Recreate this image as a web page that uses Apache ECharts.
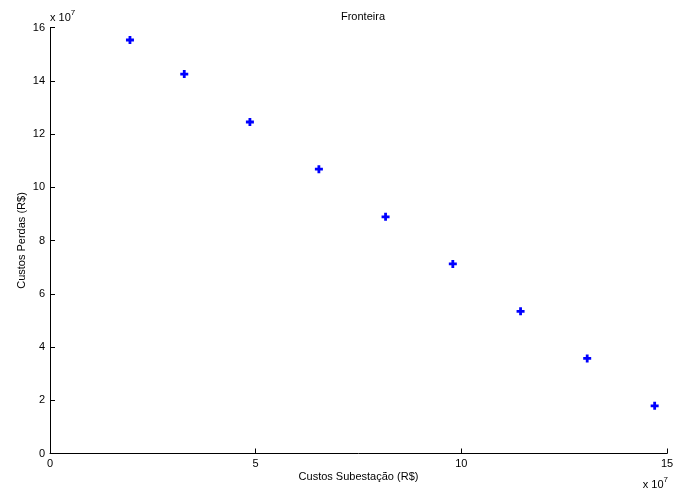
<!DOCTYPE html>
<html>
<head>
<meta charset="utf-8">
<script src="https://cdn.jsdelivr.net/npm/echarts@6/dist/echarts.min.js"></script>
<style>html,body{margin:0;padding:0;background:#fff}#c{width:675px;height:488px}</style>
</head>
<body>
<div id="c"></div>
<script>
var title = 'Fronteira';
var xName = 'Custos Subestação (R$)';
var yName = 'Custos Perdas (R$)';
var custosSubestacao = [1.944e7, 3.264e7, 4.86e7, 6.537e7, 8.158e7, 9.793e7, 11.44e7, 13.06e7, 14.70e7];
var custosPerdas = [15.53e7, 14.25e7, 12.45e7, 10.68e7, 8.89e7, 7.12e7, 5.34e7, 3.57e7, 1.79e7];
var xTicks = [0, 5, 10, 15];
var yTicks = [0, 2, 4, 6, 8, 10, 12, 14, 16];
var scale = 1e7;

var pts = custosSubestacao.map(function (v, i) { return [v, custosPerdas[i]]; });
var font = 'Liberation Sans, Arial, Helvetica, sans-serif';
var chart = echarts.init(document.getElementById('c'), null, {renderer: 'canvas'});
var axisCommon = {
  axisLine: {show: true, onZero: false, lineStyle: {color: '#000', width: 1}},
  axisTick: {show: true, inside: true, length: 5, lineStyle: {color: '#000'}},
  splitLine: {show: false},
  axisLabel: {color: '#000', fontSize: 11, fontFamily: font, formatter: function (v) { return String(Math.round(v / scale)); }}
};
chart.setOption({
  animation: false,
  backgroundColor: '#fff',
  title: {text: title, left: 358, top: 6, textAlign: 'center', textStyle: {fontSize: 11, fontWeight: 'normal', color: '#000', fontFamily: font}},
  grid: {left: 50, top: 27.5, width: 617, height: 426, containLabel: false, outerBoundsMode: 'none'},
  xAxis: Object.assign({}, axisCommon, {
    type: 'value', min: xTicks[0] * scale, max: xTicks[xTicks.length - 1] * scale, interval: 5 * scale,
    name: xName, nameLocation: 'middle', nameGap: 18, nameMoveOverlap: false,
    nameTextStyle: {fontSize: 11, color: '#000', fontFamily: font},
    axisLabel: Object.assign({}, axisCommon.axisLabel, {margin: 5})
  }),
  yAxis: Object.assign({}, axisCommon, {
    type: 'value', min: yTicks[0] * scale, max: yTicks[yTicks.length - 1] * scale, interval: 2 * scale,
    name: yName, nameLocation: 'middle', nameGap: 23, nameMoveOverlap: false,
    nameTextStyle: {fontSize: 11, color: '#000', fontFamily: font},
    axisLabel: Object.assign({}, axisCommon.axisLabel, {margin: 5})
  }),
  series: [{
    type: 'scatter',
    data: pts,
    symbol: 'path://M2.6,0H5.4V2.6H8V5.4H5.4V8H2.6V5.4H0V2.6H2.6Z',
    symbolSize: 8,
    itemStyle: {color: '#0000ff', opacity: 1}
  }],
  graphic: [
    {type: 'text', left: 50, top: 9, style: {text: '{b|x 10}{s|7}', rich: {b: {fontSize: 11, fontFamily: font, fill: '#000', verticalAlign: 'bottom'}, s: {fontSize: 8, fontFamily: font, fill: '#000', verticalAlign: 'top', padding: [0, 0, 6, 0]}}}},
    {type: 'text', right: 7, top: 476, style: {text: '{b|x 10}{s|7}', rich: {b: {fontSize: 11, fontFamily: font, fill: '#000', verticalAlign: 'bottom'}, s: {fontSize: 8, fontFamily: font, fill: '#000', verticalAlign: 'top', padding: [0, 0, 6, 0]}}}}
  ]
});
</script>
</body>
</html>
